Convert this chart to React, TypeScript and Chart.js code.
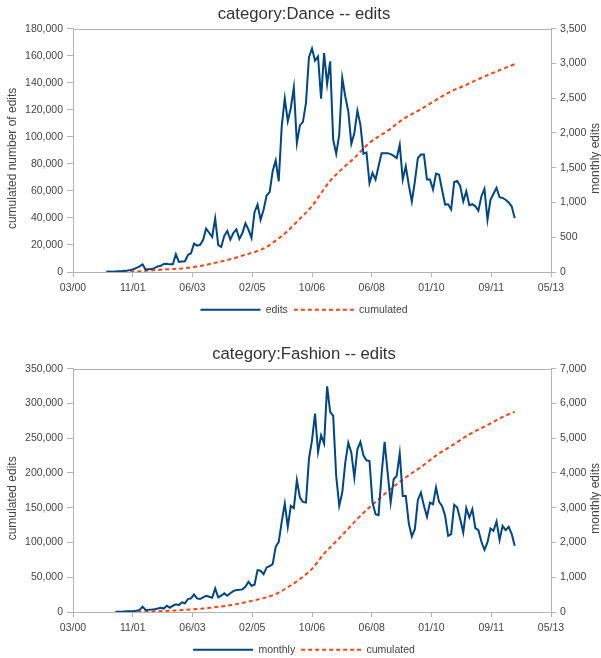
import React, { useEffect, useRef } from 'react';
import { Chart, registerables } from 'chart.js';

Chart.register(...registerables);

const FONT = '"Liberation Sans", Arial, Helvetica, sans-serif';
const BLUE = '#004586';
const ORANGE = '#ff420e';
const AXIS = '#b3b3b3';
const TEXT = '#444444';

// x axis: months counted from 03/2000, 8 equal major steps to 05/2013
const xTickLabels = ['03/00', '11/01', '06/03', '02/05', '10/06', '06/08', '01/10', '09/11', '05/13'];
const xAxisStart = '2000-03';
const xAxisEnd = '2013-05';

// ---- category:Dance ----
const danceMonthlyStart = '2001-02';
const danceMonthly = [
  5, 6, 5, 8, 10, 12, 18, 22, 30, 40, 60, 80, 110, 35, 40, 42, 60, 80, 90, 115,
  120, 110, 110, 255, 145, 150, 155, 245, 270, 410, 380, 390, 460, 625, 565, 505, 770, 390, 360, 520,
  590, 465, 560, 615, 475, 560, 700, 610, 490, 860, 970, 750, 895, 1100, 1150, 1450, 1605, 1305, 2100, 2495,
  2170, 2360, 2655, 1855, 2110, 2160, 2430, 3090, 3215, 3040, 3100, 2495, 3150, 2705, 3030, 1905, 1700, 1975, 2790, 2525,
  2310, 1845, 2000, 2320, 2120, 1700, 1720, 1280, 1425, 1330, 1520, 1710, 1710, 1710, 1695, 1670, 1640, 1830, 1330, 1520,
  1250, 1015, 1300, 1640, 1690, 1690, 1330, 1330, 1185, 1415, 1400, 1180, 970, 975, 900, 1295, 1310, 1235, 1015, 1160,
  960, 975, 945, 880, 1090, 1195, 750, 1040, 1125, 1210, 1075, 1065, 1040, 1000, 945, 775,
];
const danceCumMonths = [
  '2001-03', '2001-11', '2002-05', '2002-10', '2003-04', '2003-09', '2004-03', '2004-08', '2004-11', '2005-04',
  '2005-07', '2005-10', '2006-01', '2006-03', '2006-06', '2006-10', '2006-12', '2007-02', '2007-04', '2007-06',
  '2007-09', '2007-12', '2008-05', '2008-11', '2009-04', '2009-10', '2010-02', '2010-07', '2011-01', '2011-06',
  '2011-12', '2012-05',
];
const danceCumulated = [
  0, 300, 1200, 2000, 2800, 4400, 7300, 10000, 12100, 15500,
  18500, 23200, 28500, 32600, 39500, 48700, 55000, 61500, 67500, 72100,
  78500, 84400, 95500, 104500, 112800, 120500, 125900, 132600, 138500, 143700,
  149300, 153800,
];

// ---- category:Fashion ----
const fashionMonthlyStart = '2001-05';
const fashionMonthly = [
  5, 8, 10, 15, 20, 25, 30, 37, 60, 150, 57, 62, 69, 80, 100, 124, 100, 181, 124, 180,
  220, 200, 277, 250, 373, 392, 507, 392, 373, 420, 468, 440, 410, 680, 420, 468, 536, 468, 540, 600,
  632, 640, 651, 727, 871, 756, 785, 1206, 1187, 1091, 1283, 1320, 1379, 1876, 2020, 2600, 3121, 2451, 3054, 2990,
  3791, 3293, 3169, 3150, 4413, 4940, 5706, 4605, 5084, 4844, 6490, 5760, 5640, 3915, 3054, 3437, 4298, 4872, 4585, 3868,
  4681, 4892, 4509, 4365, 4346, 3150, 2815, 2787, 3963, 4892, 4011, 3150, 3820, 3915, 4566, 3341, 3341, 2547, 2173, 2383,
  3226, 3437, 3054, 2737, 3150, 3102, 3581, 3169, 3054, 2767, 2192, 2240, 3083, 3006, 2671, 2288, 2987, 2719, 2958, 2412,
  2355, 2020, 1790, 2001, 2403, 2335, 2604, 2077, 2479, 2355, 2450, 2250, 1905,
];
const fashionCumMonths = [
  '2001-10', '2002-12', '2003-11', '2004-08', '2005-02', '2005-06', '2005-09', '2005-11', '2006-06', '2006-10',
  '2007-02', '2007-04', '2007-08', '2008-01', '2008-07', '2008-12', '2009-06', '2009-10', '2010-03', '2010-09',
  '2011-02', '2011-08', '2012-01', '2012-05',
];
const fashionCumulated = [
  0, 2000, 5400, 10500, 16000, 20000, 24000, 28000, 47400, 62000,
  84000, 93000, 110600, 134000, 158400, 177000, 196800, 208500, 225000, 241500,
  255500, 269000, 280500, 288000,
];

function monthIndex(s: string): number {
  const [y, m] = s.split('-').map(Number);
  const [y0, m0] = xAxisStart.split('-').map(Number);
  return (y - y0) * 12 + (m - m0);
}

const fmt = (v: number | string) => Number(v).toLocaleString('en-US');

type PanelProps = {
  title: string;
  leftTitle: string;
  rightTitle: string;
  monthlyLabel: string;
  monthlyStart: string;
  monthly: number[];
  cumMonths: string[];
  cumulated: number[];
  leftMax: number;
  leftStep: number;
  rightMax: number;
  rightStep: number;
  top: number;
};

function ChartPanel(p: PanelProps) {
  const ref = useRef<HTMLCanvasElement>(null);
  useEffect(() => {
    if (!ref.current) return;
    const start = monthIndex(p.monthlyStart);
    const xMax = monthIndex(xAxisEnd);
    const sidePlugin = {
      id: 'sideTitles',
      afterDraw(chart: any) {
        const { ctx, chartArea } = chart;
        const cy = (chartArea.top + chartArea.bottom) / 2 + 8;
        ctx.save();
        ctx.strokeStyle = AXIS;
        ctx.lineWidth = 1;
        ctx.beginPath();
        ctx.moveTo(chartArea.left, Math.round(chartArea.top) + 0.5);
        ctx.lineTo(chartArea.right, Math.round(chartArea.top) + 0.5);
        ctx.stroke();
        ctx.fillStyle = TEXT;
        ctx.font = `12px ${FONT}`;
        ctx.textAlign = 'center';
        ctx.textBaseline = 'middle';
        ctx.save();
        ctx.translate(13, cy);
        ctx.rotate(-Math.PI / 2);
        ctx.fillText(p.leftTitle, 0, 0);
        ctx.restore();
        ctx.save();
        ctx.translate(596, cy);
        ctx.rotate(-Math.PI / 2);
        ctx.fillText(p.rightTitle, 0, 0);
        ctx.restore();
        ctx.restore();
      },
    };
    const defaultLabels = (Chart.defaults as any).plugins.legend.labels.generateLabels;
    const chart = new Chart(ref.current, {
      type: 'line',
      data: {
        datasets: [
          {
            label: p.monthlyLabel,
            data: p.monthly.map((v, i) => ({ x: start + i, y: v })),
            yAxisID: 'yRight',
            borderColor: BLUE,
            backgroundColor: BLUE,
            borderWidth: 2,
            pointRadius: 0,
            tension: 0,
            fill: false,
          },
          {
            label: 'cumulated',
            data: p.cumMonths.map((m, i) => ({ x: monthIndex(m), y: p.cumulated[i] })),
            yAxisID: 'yLeft',
            borderColor: ORANGE,
            backgroundColor: ORANGE,
            borderWidth: 2,
            borderDash: [4, 3],
            pointRadius: 0,
            cubicInterpolationMode: 'monotone',
            fill: false,
          },
        ],
      },
      plugins: [sidePlugin],
      options: {
        animation: false,
        responsive: true,
        maintainAspectRatio: false,
        events: [],
        layout: { padding: { left: 7, right: 0, top: 0, bottom: 0 } },
        plugins: {
          title: {
            display: true,
            text: p.title,
            color: '#333333',
            font: { family: FONT, size: 16.7, weight: 'normal' },
            padding: { top: 4, bottom: 4.66 },
          },
          legend: {
            position: 'bottom',
            labels: {
              usePointStyle: true,
              pointStyle: 'line',
              pointStyleWidth: 60,
              color: TEXT,
              font: { family: FONT, size: 10.5 },
              padding: 6,
              generateLabels: (chart: any) =>
                defaultLabels(chart).map((item: any) => {
                  const ds = chart.data.datasets[item.datasetIndex];
                  return {
                    ...item,
                    lineDash: ds.borderDash || [],
                    lineWidth: ds.borderWidth,
                    strokeStyle: ds.borderColor,
                    fillStyle: ds.borderColor,
                  };
                }),
            },
          },
          tooltip: { enabled: false },
        },
        scales: {
          x: {
            type: 'linear',
            min: 0,
            max: xMax,
            afterBuildTicks: (s: any) => {
              const n = xTickLabels.length - 1;
              s.ticks = xTickLabels.map((_, i) => ({ value: (i * xMax) / n }));
            },
            afterFit: (s: any) => {
              s.height = 26.5;
            },
            ticks: {
              autoSkip: false,
              maxRotation: 0,
              padding: 5,
              color: TEXT,
              font: { family: FONT, size: 10.5 },
              callback: (_v: any, i: number) => xTickLabels[i],
            },
            grid: { drawOnChartArea: false, tickLength: 5, color: AXIS },
            border: { color: AXIS },
          },
          yLeft: {
            type: 'linear',
            position: 'left',
            min: 0,
            max: p.leftMax,
            afterFit: (s: any) => {
              s.width = 66;
            },
            ticks: {
              stepSize: p.leftStep,
              padding: 4,
              color: TEXT,
              font: { family: FONT, size: 10.5 },
              callback: (v: any) => fmt(v),
            },
            grid: { drawOnChartArea: false, tickLength: 6, color: AXIS },
            border: { color: AXIS },
          },
          yRight: {
            type: 'linear',
            position: 'right',
            min: 0,
            max: p.rightMax,
            afterFit: (s: any) => {
              s.width = 50;
            },
            ticks: {
              stepSize: p.rightStep,
              padding: 4,
              color: TEXT,
              font: { family: FONT, size: 10.5 },
              callback: (v: any) => fmt(v),
            },
            grid: { drawOnChartArea: false, tickLength: 5, color: AXIS },
            border: { color: AXIS },
          },
        },
      } as any,
    });
    return () => chart.destroy();
  }, []);
  return (
    <div style={{ position: 'absolute', left: 0, top: p.top, width: 601, height: 325 }}>
      <canvas ref={ref} />
    </div>
  );
}

export default function App() {
  return (
    <div
      style={{
        position: 'absolute',
        left: 0,
        top: 0,
        width: 601,
        height: 658,
        overflow: 'hidden',
        background: '#ffffff',
      }}
    >
      <ChartPanel
        title="category:Dance -- edits"
        leftTitle="cumulated number of edits"
        rightTitle="monthly edits"
        monthlyLabel="edits"
        monthlyStart={danceMonthlyStart}
        monthly={danceMonthly}
        cumMonths={danceCumMonths}
        cumulated={danceCumulated}
        leftMax={180000}
        leftStep={20000}
        rightMax={3500}
        rightStep={500}
        top={0}
      />
      <ChartPanel
        title="category:Fashion -- edits"
        leftTitle="cumulated edits"
        rightTitle="monthly edits"
        monthlyLabel="monthly"
        monthlyStart={fashionMonthlyStart}
        monthly={fashionMonthly}
        cumMonths={fashionCumMonths}
        cumulated={fashionCumulated}
        leftMax={350000}
        leftStep={50000}
        rightMax={7000}
        rightStep={1000}
        top={340}
      />
    </div>
  );
}
